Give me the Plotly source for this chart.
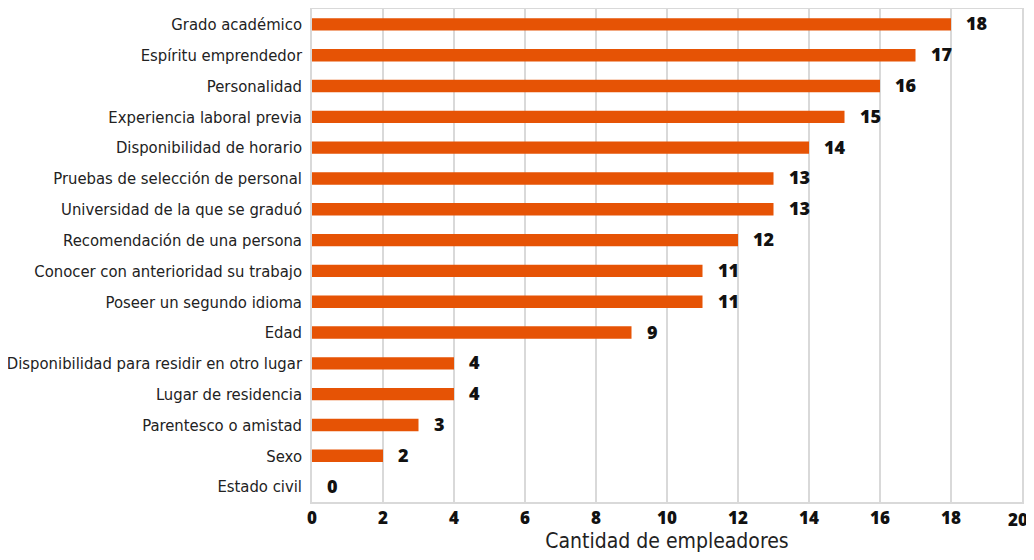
import plotly.graph_objects as go

categories = [
    "Grado académico",
    "Espíritu emprendedor",
    "Personalidad",
    "Experiencia laboral previa",
    "Disponibilidad de horario",
    "Pruebas de selección de personal",
    "Universidad de la que se graduó",
    "Recomendación de una persona",
    "Conocer con anterioridad su trabajo",
    "Poseer un segundo idioma",
    "Edad",
    "Disponibilidad para residir en otro lugar",
    "Lugar de residencia",
    "Parentesco o amistad",
    "Sexo",
    "Estado civil",
]
values = [18, 17, 16, 15, 14, 13, 13, 12, 11, 11, 9, 4, 4, 3, 2, 0]
x_ticks = [0, 2, 4, 6, 8, 10, 12, 14, 16, 18, 20]
x_title = "Cantidad de empleadores"

COND = "Liberation Sans Narrow, DejaVu Sans Condensed, Roboto Condensed, sans-serif"
BOLD = "Open Sans, DejaVu Sans, sans-serif"
TICKFONT = dict(family=BOLD, size=17, color="#111111", weight=800)

fig = go.Figure()
fig.add_trace(go.Bar(
    x=values, y=categories, orientation="h",
    marker=dict(color="#E65305", line=dict(width=0)),
    width=0.4,
))

for c, v in zip(categories, values):
    fig.add_annotation(x=v, y=c, text=str(v), showarrow=False,
                       xanchor="left", xshift=13, yshift=1,
                       font=dict(family=BOLD, size=18, color="#111111", weight=800))

# last tick label kept inside the page, like the reference
tick_text = [str(t) for t in x_ticks[:-1]] + [""]
fig.add_annotation(x=x_ticks[-1], y=0, xref="x", yref="paper", yanchor="top",
                   xanchor="right", xshift=8, yshift=-4, showarrow=False,
                   text=str(x_ticks[-1]), font=TICKFONT)

fig.update_layout(
    width=1026, height=552,
    margin=dict(l=304, r=12, t=1, b=58),
    plot_bgcolor="white", paper_bgcolor="white",
    showlegend=False,
    xaxis=dict(range=[0, 20], tickvals=x_ticks, ticktext=tick_text,
               showgrid=True, automargin=False,
               gridcolor="#D9D9D9", gridwidth=2, zeroline=False,
               showline=True, linecolor="#D9D9D9", linewidth=2, mirror=True,
               ticks="", tickfont=TICKFONT,
               title=dict(text=x_title, standoff=4,
                          font=dict(family=COND, size=21, color="#222222"))),
    yaxis=dict(categoryorder="array", categoryarray=categories[::-1], automargin=False,
               showgrid=False, showline=True, linecolor="#D9D9D9", linewidth=2,
               mirror=True, ticks="", ticksuffix=" ",
               tickfont=dict(family=COND, size=16.5, color="#222222")),
)

fig.write_html("out.html")
